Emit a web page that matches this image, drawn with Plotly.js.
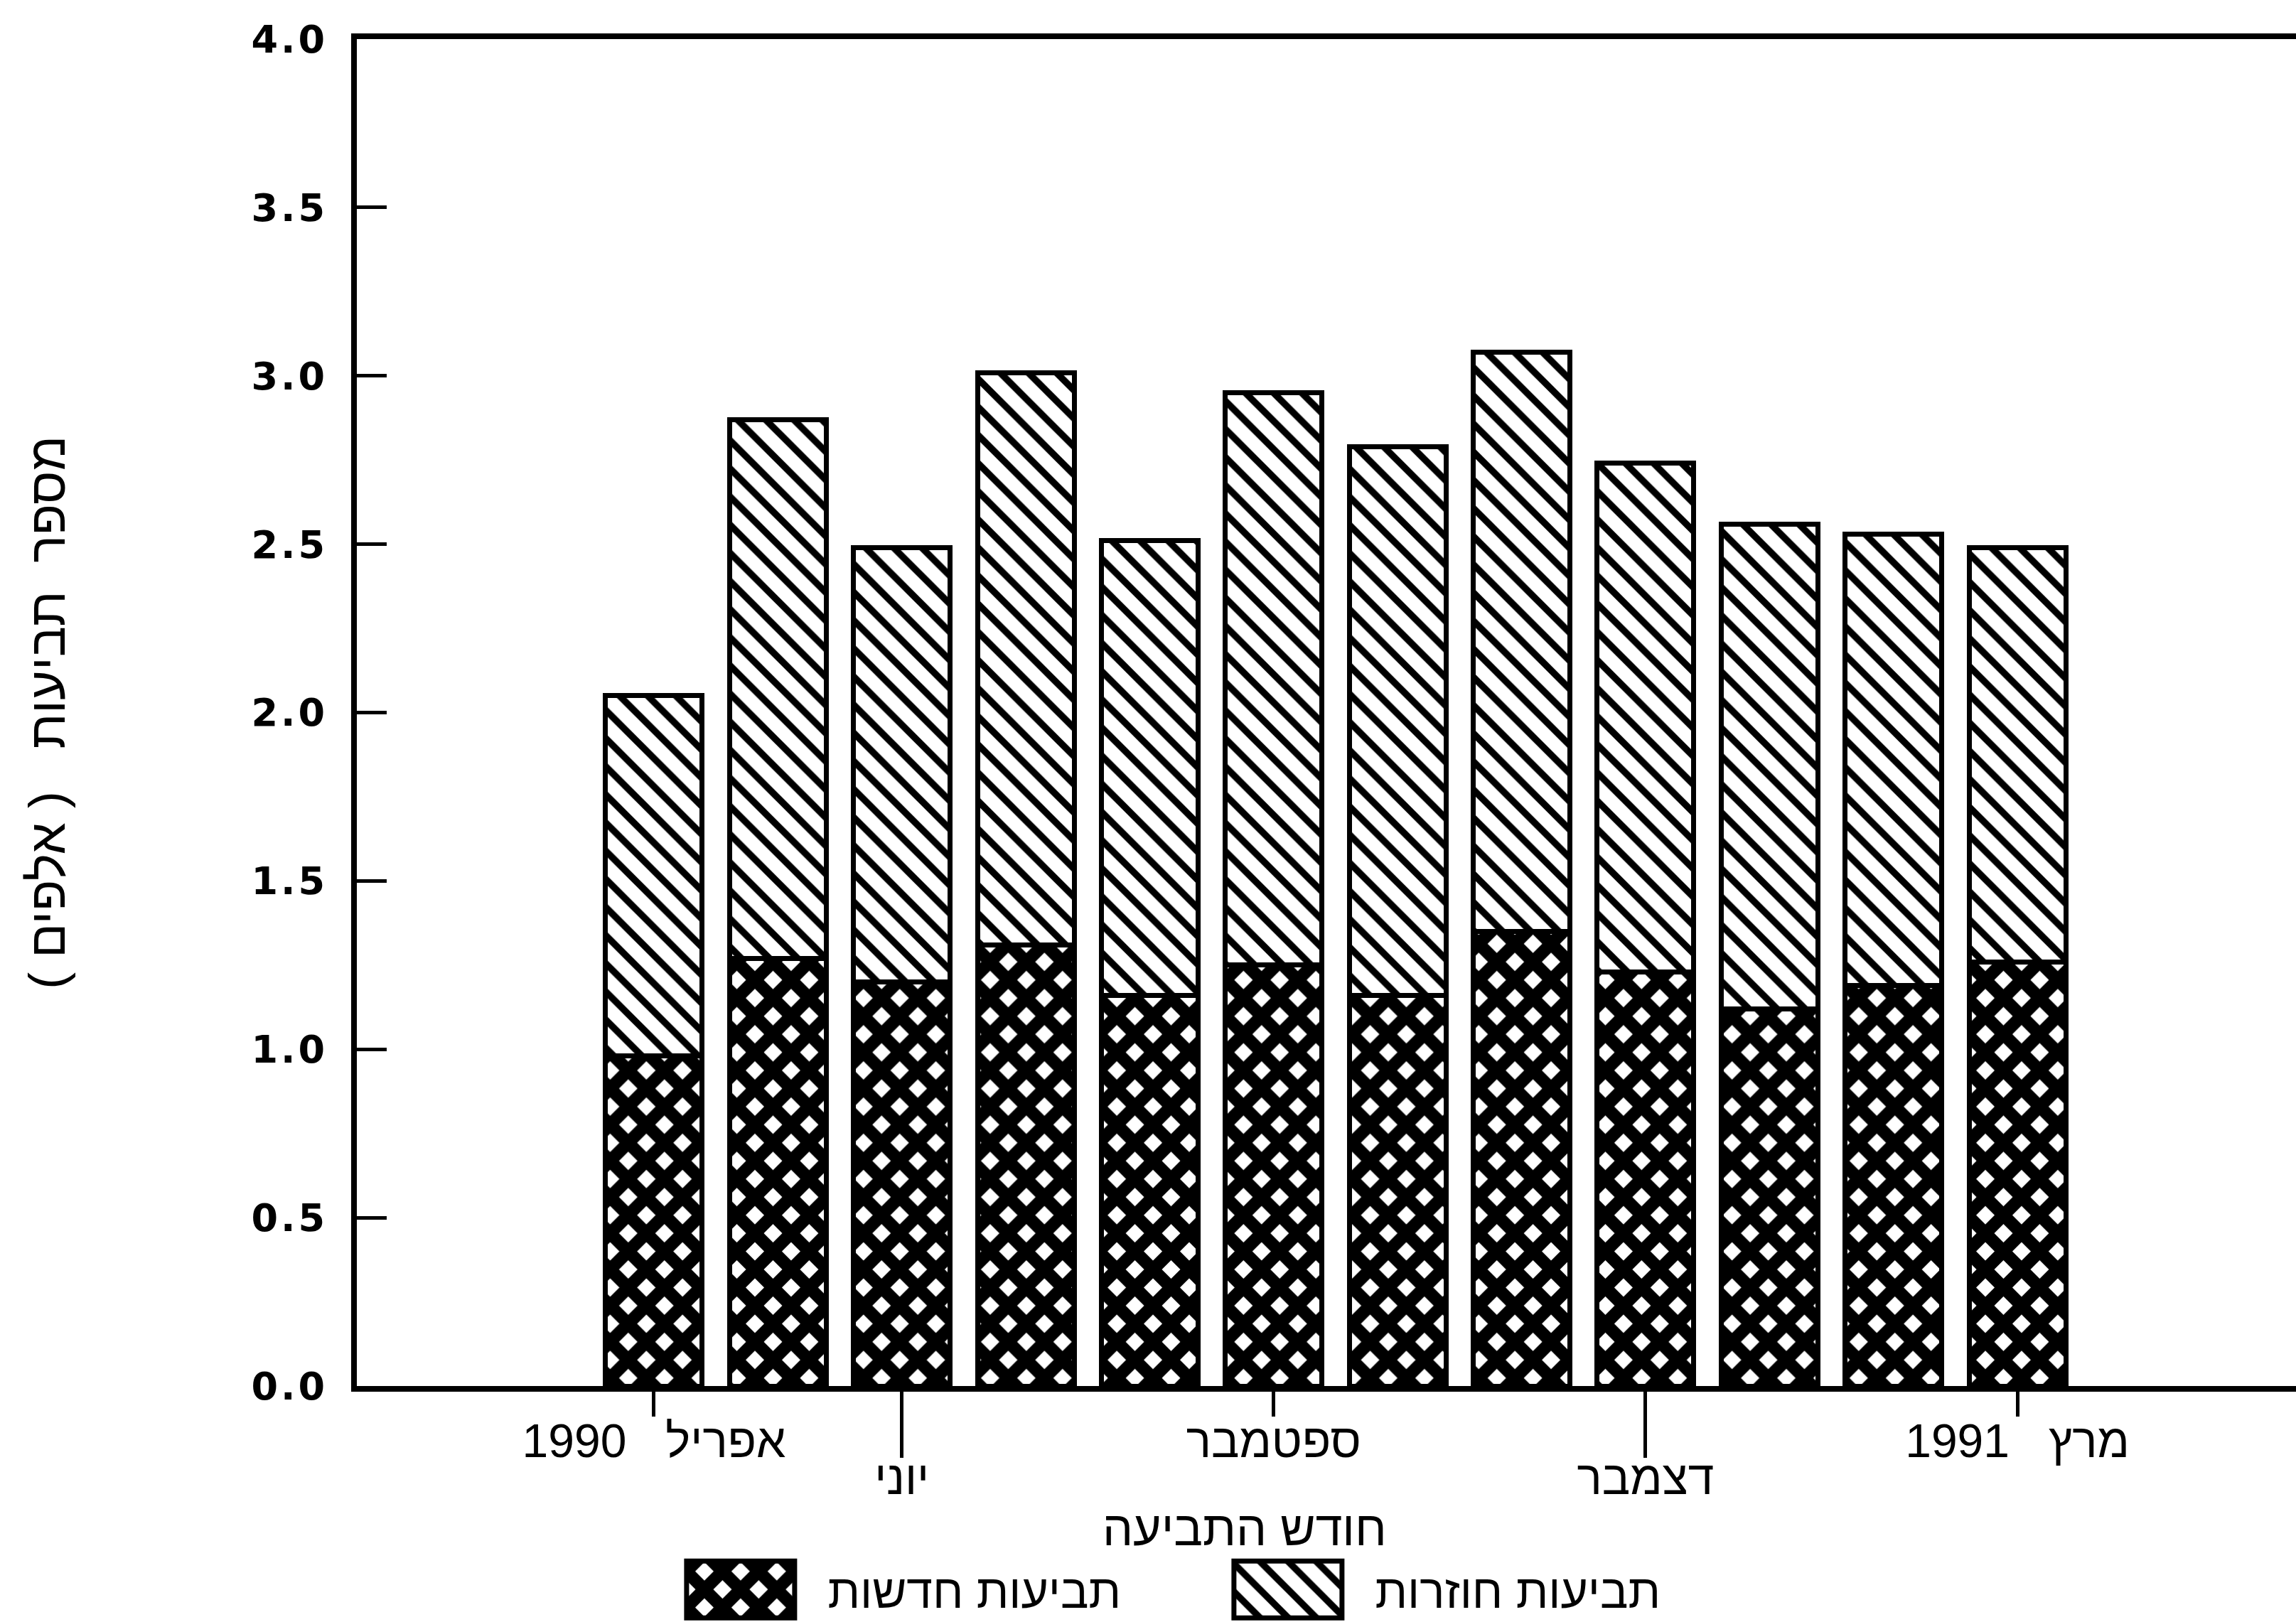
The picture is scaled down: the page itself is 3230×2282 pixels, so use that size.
<!DOCTYPE html>
<html>
<head>
<meta charset="utf-8">
<script src="https://cdn.plot.ly/plotly-3.0.1.min.js"></script>
<style>
  html, body { margin: 0; padding: 0; background: #ffffff; }
  #chart { width: 3230px; height: 2282px; }
  #chart .yaxislayer-above .ytick text { letter-spacing: 4px; }
</style>
</head>
<body>
<div id="chart"></div>
<script>
// Months of claim (April 1990 - March 1991)
const months = ['אפריל 1990','מאי 1990','יוני 1990','יולי 1990','אוגוסט 1990','ספטמבר 1990',
                'אוקטובר 1990','נובמבר 1990','דצמבר 1990','ינואר 1991','פברואר 1991','מרץ 1991'];
// Number of claims (thousands)
const newClaims    = [0.98, 1.27, 1.20, 1.31, 1.16, 1.25, 1.16, 1.35, 1.23, 1.12, 1.19, 1.26];
const repeatClaims = [1.07, 1.60, 1.29, 1.70, 1.35, 1.70, 1.63, 1.72, 1.51, 1.44, 1.34, 1.23];

const seriesNames = ['תביעות חדשות', 'תביעות חוזרות'];

// Tick labels: first row (short ticks) and second row (long ticks)
const tickRow1Vals = [months[0], months[5], months[11]];
const tickRow1Text = ['אפריל\u00A0\u00A0\u00A01990', 'ספטמבר', 'מרץ\u00A0\u00A0\u00A01991'];
const tickRow2Vals = [months[2], months[8]];
const tickRow2Text = ['יוני', 'דצמבר'];

const yTitle = 'מספר\u00A0\u00A0תביעות\u00A0\u00A0\u00A0(\u00A0אלפים\u00A0)\u200F';
const xTitle = 'חודש התביעה';

const hebFont = 'Liberation Sans, DejaVu Sans, sans-serif';
const black = '#000000';

const traces = [
  {
    type: 'bar', name: seriesNames[0], x: months, y: newClaims,
    marker: { color: '#ffffff', line: { color: black, width: 7 },
      pattern: { shape: 'x', size: 36, solidity: 0.74, fgcolor: black, bgcolor: '#ffffff', fillmode: 'replace' } },
    hoverinfo: 'skip'
  },
  {
    type: 'bar', name: seriesNames[1], x: months, y: repeatClaims,
    marker: { color: '#ffffff', line: { color: black, width: 7 },
      pattern: { shape: '\\', size: 28, solidity: 0.34, fgcolor: black, bgcolor: '#ffffff', fillmode: 'replace' } },
    hoverinfo: 'skip'
  },
  // carrier for the second row of month ticks (draws nothing)
  {
    type: 'scatter', mode: 'none', x: months, y: newClaims, xaxis: 'x2', yaxis: 'y',
    showlegend: false, hoverinfo: 'skip'
  }
];

const layout = {
  width: 3230, height: 2282,
  margin: { l: 502, r: 0, t: 55, b: 332 },
  paper_bgcolor: '#ffffff', plot_bgcolor: '#ffffff',
  barmode: 'stack', bargap: 0.22,
  showlegend: true,
  legend: {
    orientation: 'h', x: 0.153, xanchor: 'left', y: -0.1735, yanchor: 'bottom',
    font: { family: hebFont, size: 66, color: black },
    itemwidth: 235, entrywidth: 520, entrywidthmode: 'pixels',
    bgcolor: 'rgba(0,0,0,0)', borderwidth: 0, traceorder: 'normal'
  },
  xaxis: {
    type: 'category', categoryorder: 'array', categoryarray: months,
    range: [-2.397, 13.248],
    showline: true, linecolor: black, linewidth: 8, mirror: true,
    showgrid: false, zeroline: false,
    ticks: 'outside', ticklen: 35, tickwidth: 5, tickcolor: black,
    tickmode: 'array', tickvals: tickRow1Vals, ticktext: tickRow1Text,
    tickfont: { family: hebFont, size: 66, color: black },
    ticklabelstandoff: -22,
    tickangle: 0
  },
  xaxis2: {
    type: 'category', categoryorder: 'array', categoryarray: months,
    overlaying: 'x', matches: 'x', anchor: 'y', side: 'bottom',
    showline: false, showgrid: false, zeroline: false,
    ticks: 'outside', ticklen: 100, tickwidth: 5, tickcolor: black,
    tickmode: 'array', tickvals: tickRow2Vals, ticktext: tickRow2Text,
    tickfont: { family: hebFont, size: 66, color: black },
    ticklabelstandoff: -28,
    tickangle: 0
  },
  yaxis: {
    range: [0, 4], tickmode: 'linear', tick0: 0, dtick: 0.5, tickformat: '.1f',
    showline: true, linecolor: black, linewidth: 8, mirror: false,
    showgrid: false, zeroline: false,
    ticks: 'inside', ticklen: 42, tickwidth: 5, tickcolor: black,
    ticklabelstandoff: 22,
    tickfont: { family: 'DejaVu Sans, sans-serif', size: 54, color: black, weight: 'bold' },
    title: { text: yTitle, font: { family: hebFont, size: 72, color: black }, standoff: 253 }
  },
  annotations: [
    { text: xTitle, xref: 'paper', yref: 'paper', x: 0.458, y: -0.1055,
      xanchor: 'center', yanchor: 'middle', showarrow: false,
      font: { family: hebFont, size: 68, color: black } }
  ]
};

Plotly.newPlot('chart', traces, layout, { staticPlot: true, displayModeBar: false }).then(gd => {
  // Bar fills (patterns) per trace, to reuse on the legend keys
  const barFills = [];
  gd.querySelectorAll('.barlayer .trace').forEach(tr => {
    const p = tr.querySelector('.point path');
    barFills.push(p ? p.style.fill : null);
  });
  // Enlarge legend swatches to match the boxed hatched keys of the original
  gd.querySelectorAll('.legend .traces').forEach((tr, i) => {
    tr.querySelectorAll('.legendpoints path').forEach(p => {
      p.setAttribute('d', 'M76,40H-76V-40H76Z');
      p.style.strokeWidth = '7px';
      if (barFills[i]) p.style.fill = barFills[i];
    });
  });
  // Lower the legend slightly, as in the original (key boxes run to the page edge)
  const lg = gd.querySelector('g.legend');
  if (lg) {
    const m = /translate\(\s*([-\d.]+)[ ,]+([-\d.]+)\s*\)/.exec(lg.getAttribute('transform') || '');
    if (m) lg.setAttribute('transform', 'translate(' + m[1] + ',' + (parseFloat(m[2]) + 7) + ')');
  }
});
</script>
</body>
</html>
